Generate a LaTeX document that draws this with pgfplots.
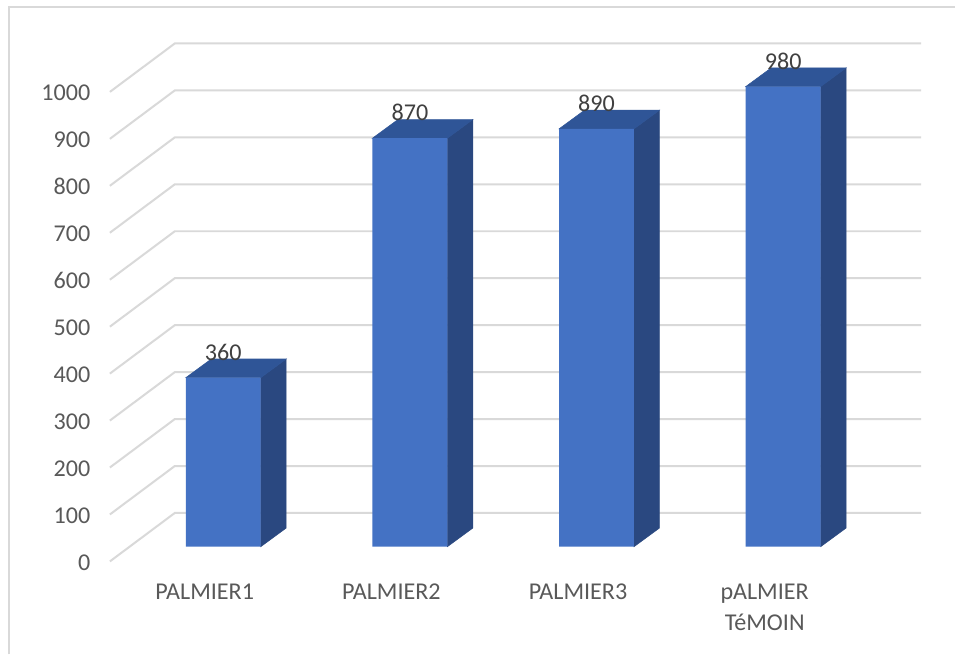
\documentclass[border=0pt]{standalone}
\usepackage{pgfplots}
\pgfplotsset{compat=1.18}
\usepackage{fontspec}
\setmainfont{Carlito}
\definecolor{gridgray}{HTML}{D9D9D9}
\definecolor{ticktext}{HTML}{595959}
\definecolor{labeltext}{HTML}{404040}
\definecolor{barfront}{HTML}{4472C4}
\definecolor{bartop}{HTML}{2F5597}
\definecolor{barside}{HTML}{2A4880}
\begin{document}
\begin{tikzpicture}
% page area and chart frame (open on the right and at the bottom)
\path[fill=white] (-82.5pt,-69.75pt) rectangle (634.5pt,421.5pt);
\draw[gridgray,line width=1.5pt] (-75.75pt,-69.75pt) -- (-75.75pt,416.25pt) -- (634.5pt,416.25pt);
\begin{axis}[
  at={(0,0)}, anchor=south west,
  scale only axis, width=609pt, height=388.875pt,
  clip=false,
  xmin=-0.6075, xmax=3.7387, ymin=-31.3, ymax=1071.9,
  unbounded coords=jump,
  axis line style={draw=none},
  major tick length=0pt, tick style={draw=none},
  xtick={0,1,2,3},
  xticklabels={PALMIER1,PALMIER2,PALMIER3,{pALMIER\\TéMOIN}},
  ytick={0,100,...,1000},
  /pgf/number format/assume math mode=true,
  /pgf/number format/1000 sep={},
  x tick label style={anchor=north,align=center,xshift=-13.9pt,yshift=-13.4pt,
    text=ticktext,font=\fontsize{18.1}{23}\selectfont},
  y tick label style={anchor=east,xshift=-11.2pt,yshift=-11.8pt,
    text=ticktext,font=\fontsize{18.1}{20}\selectfont},
]
% floor edge, back-wall corner and wall gridline for each level
\addplot[gridgray,line width=1.5pt] table {
x y
-0.6075 -31.3
-0.2596 71.9
3.7387 71.9
nan nan
-0.6075 68.7
-0.2596 171.9
3.7387 171.9
nan nan
-0.6075 168.7
-0.2596 271.9
3.7387 271.9
nan nan
-0.6075 268.7
-0.2596 371.9
3.7387 371.9
nan nan
-0.6075 368.7
-0.2596 471.9
3.7387 471.9
nan nan
-0.6075 468.7
-0.2596 571.9
3.7387 571.9
nan nan
-0.6075 568.7
-0.2596 671.9
3.7387 671.9
nan nan
-0.6075 668.7
-0.2596 771.9
3.7387 771.9
nan nan
-0.6075 768.7
-0.2596 871.9
3.7387 871.9
nan nan
-0.6075 868.7
-0.2596 971.9
3.7387 971.9
nan nan
-0.6075 968.7
-0.2596 1071.9
3.7387 1071.9
};
% side faces
\addplot[fill=barside,draw=barside,line width=0.4pt] coordinates {(0.2007,0) (0.3372,39.8) (0.3372,399.8) (0.2007,360)} -- cycle;
\addplot[fill=barside,draw=barside,line width=0.4pt] coordinates {(1.2007,0) (1.3372,39.8) (1.3372,909.8) (1.2007,870)} -- cycle;
\addplot[fill=barside,draw=barside,line width=0.4pt] coordinates {(2.2007,0) (2.3372,39.8) (2.3372,929.8) (2.2007,890)} -- cycle;
\addplot[fill=barside,draw=barside,line width=0.4pt] coordinates {(3.2007,0) (3.3372,39.8) (3.3372,1019.8) (3.2007,980)} -- cycle;
% top faces
\addplot[fill=bartop,draw=bartop,line width=0.4pt] coordinates {(-0.2007,360) (-0.0642,399.8) (0.3372,399.8) (0.2007,360)} -- cycle;
\addplot[fill=bartop,draw=bartop,line width=0.4pt] coordinates {(0.7993,870) (0.9358,909.8) (1.3372,909.8) (1.2007,870)} -- cycle;
\addplot[fill=bartop,draw=bartop,line width=0.4pt] coordinates {(1.7993,890) (1.9358,929.8) (2.3372,929.8) (2.2007,890)} -- cycle;
\addplot[fill=bartop,draw=bartop,line width=0.4pt] coordinates {(2.7993,980) (2.9358,1019.8) (3.3372,1019.8) (3.2007,980)} -- cycle;
% front faces with their value labels
\addplot[ybar,bar width=56.25pt,fill=barfront,draw=none,
  nodes near coords,
  every node near coord/.append style={anchor=center,yshift=19.2pt,text=labeltext,
    font=\fontsize{18.1}{20}\selectfont,/pgf/number format/assume math mode=true},
] coordinates {(0,360) (1,870) (2,890) (3,980)};
\end{axis}
\end{tikzpicture}
\end{document}
